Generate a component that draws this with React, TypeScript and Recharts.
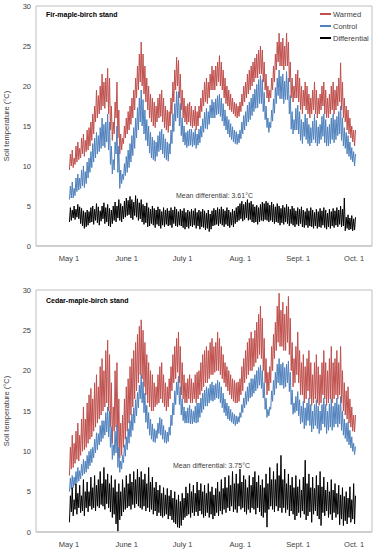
import React from 'react';
import { LineChart, Line, XAxis, YAxis, ReferenceArea, Legend } from 'recharts';

const FONT = '"Liberation Sans", Arial, sans-serif';
const X_MIN = -17.7;
const X_MAX = 162.6;

const dayTicks = [0, 31, 61, 92, 123, 153];
const tickLabels = ['May 1', 'June 1', 'July 1', 'Aug. 1', 'Sept. 1', 'Oct. 1'];
const yTicks = [0, 5, 10, 15, 20, 25, 30];
const seriesNames = ['Warmed', 'Control', 'Differential'];
const seriesColors = ['#C0504D', '#4F81BD', '#000000'];

// ---------- Fir-maple-birch stand (daily highs / lows from May 1) ----------
const firWarmedHigh = [11.5,12.0,11.0,12.5,13.0,12.2,13.5,14.0,13.2,14.5,
14.8,15.5,16.5,17.5,19.5,18.8,20.0,21.5,20.5,21.0,
22.2,21.0,17.5,15.5,18.0,20.5,17.0,14.0,13.5,15.0,
16.0,16.8,17.5,18.5,19.5,21.0,22.5,24.0,25.5,24.0,
22.5,21.0,20.0,19.0,18.5,18.0,17.5,18.5,19.0,19.5,
18.5,17.5,17.0,16.8,18.5,20.5,22.0,23.6,23.2,21.5,
19.5,18.5,17.5,17.8,18.0,17.5,17.0,17.5,16.8,17.5,
18.5,19.5,20.5,21.0,20.5,21.5,22.5,22.0,22.5,23.0,
23.8,23.0,22.0,21.0,20.0,19.5,19.0,18.5,18.0,17.8,
17.5,18.0,19.0,20.0,20.5,21.5,22.0,22.5,23.0,23.5,
24.0,24.5,25.0,24.5,23.0,21.5,20.0,19.5,21.0,22.5,
24.0,25.5,26.6,25.5,26.0,25.0,26.6,25.5,23.0,21.0,
20.0,21.5,22.0,21.0,20.0,19.5,20.5,20.0,19.0,18.5,
19.5,20.5,19.5,18.5,19.0,20.0,20.5,19.5,18.5,19.0,
20.0,20.5,19.5,20.0,21.0,22.9,20.5,18.5,17.5,17.0,
16.0,15.0,14.5,14.5];
const firWarmedLow = [9.5,10.0,9.8,10.2,10.5,10.8,11.0,11.5,11.2,11.8,
12.0,12.5,13.2,14.0,15.5,16.0,16.5,17.0,17.5,17.2,
18.0,16.5,14.5,13.2,14.0,16.0,13.5,11.5,12.0,12.8,
13.5,14.0,14.5,15.2,16.0,17.0,18.5,19.5,20.5,20.0,
19.0,18.0,17.0,16.0,15.5,15.0,14.8,15.5,16.0,16.2,
15.5,14.8,14.5,14.2,15.0,16.5,18.0,19.5,20.0,18.5,
17.0,16.0,15.5,15.2,15.5,15.0,14.8,15.0,14.5,15.0,
16.0,16.8,17.5,18.0,17.8,18.5,19.5,19.5,19.5,20.0,
20.5,20.0,19.5,18.5,17.8,17.5,17.0,16.8,16.5,16.2,
16.0,16.2,16.8,17.5,18.0,18.5,19.0,19.5,20.0,20.5,
21.0,21.0,21.5,21.5,20.5,19.5,18.5,18.0,18.5,19.5,
20.5,22.0,23.0,22.5,22.5,22.0,22.5,22.5,20.5,18.5,
18.0,18.5,18.5,18.0,17.0,16.5,17.5,17.0,16.5,16.0,
16.5,17.0,16.5,16.0,16.5,17.0,17.5,16.5,16.0,16.0,
16.5,17.0,16.5,17.0,17.5,18.0,17.0,16.0,15.5,14.5,
14.0,13.5,13.0,12.5];
const firControlHigh = [7.5,8.0,7.2,8.5,9.0,8.5,9.5,10.0,9.3,10.5,
11.0,11.8,12.8,13.5,14.2,13.8,14.8,16.0,15.2,15.5,
16.5,15.5,12.5,10.8,13.0,15.0,12.5,9.5,9.0,10.3,
11.2,12.0,12.8,13.8,14.8,16.0,17.3,18.5,19.5,18.3,
17.0,15.8,15.0,14.2,13.6,13.2,13.0,13.8,14.3,14.6,
14.0,13.4,13.0,12.8,14.5,16.5,17.8,19.3,19.3,17.8,
16.0,15.0,14.2,14.4,14.6,14.6,14.2,14.6,14.0,14.6,
15.0,15.9,16.7,17.2,16.8,17.6,18.3,18.0,18.4,18.8,
19.0,18.5,17.8,17.0,16.2,15.8,15.3,14.9,14.5,14.3,
14.0,14.5,15.5,16.3,16.8,17.6,18.0,18.5,19.0,19.6,
20.2,20.8,21.3,20.8,19.2,17.5,16.0,15.5,17.0,18.4,
19.8,21.0,22.0,21.2,21.5,20.6,21.8,21.0,18.8,16.8,
15.8,17.2,17.6,16.8,15.8,15.5,16.5,16.0,15.2,14.8,
15.6,16.5,15.7,14.9,15.2,16.2,16.5,15.8,14.9,15.2,
16.0,16.5,15.8,16.2,16.8,17.5,16.0,14.8,14.2,13.8,
13.0,12.3,11.8,11.5];
const firControlLow = [5.8,6.0,6.0,6.3,6.8,7.0,7.2,7.5,7.3,7.8,
8.5,9.2,9.8,10.5,11.0,11.5,11.8,12.2,12.5,12.3,
13.0,12.0,10.2,9.0,9.5,11.5,9.2,7.2,7.8,8.3,
8.8,9.2,9.8,10.5,11.3,12.2,13.5,14.5,15.5,15.0,
14.0,13.2,12.5,11.6,11.0,10.8,10.6,11.2,11.8,12.0,
11.5,11.0,10.8,10.6,11.5,12.8,14.3,15.6,16.0,15.0,
13.8,13.0,12.6,12.3,12.5,12.6,12.4,12.6,12.2,12.6,
12.9,13.6,14.2,14.7,14.6,15.2,16.0,16.0,16.0,16.4,
16.5,16.2,15.6,15.0,14.5,14.0,13.6,13.3,13.0,12.8,
12.7,12.9,13.4,14.0,14.5,15.0,15.5,15.8,16.3,16.8,
17.2,17.3,17.8,17.8,16.8,15.8,14.8,14.2,14.8,15.6,
16.6,17.8,18.8,18.4,18.4,17.8,18.3,18.3,16.5,14.6,
14.0,14.5,14.5,14.0,13.2,12.8,13.7,13.3,12.8,12.5,
12.9,13.3,12.9,12.5,12.8,13.3,13.7,12.9,12.5,12.5,
12.8,13.3,12.9,13.3,13.8,14.0,13.2,12.5,12.2,11.5,
11.2,10.8,10.5,10.0];
const firDiffHigh = [4.8,4.5,5.0,4.6,5.2,4.9,4.7,4.4,4.2,4.5,
4.3,4.8,5.0,4.6,5.3,4.9,4.4,5.0,5.4,4.8,
5.2,4.7,4.5,5.0,5.5,5.0,5.8,5.3,5.0,5.6,
6.0,5.7,6.2,5.8,5.5,6.3,5.9,5.4,5.8,5.2,
5.0,5.4,4.8,4.6,5.0,4.7,4.5,4.9,4.6,4.3,
4.8,4.5,4.7,4.4,4.8,4.5,4.9,4.6,4.3,4.6,
4.4,4.7,4.2,4.5,4.3,4.6,4.4,4.7,4.2,4.5,
4.3,4.6,4.4,4.1,4.5,4.0,4.4,4.7,4.5,4.8,
4.6,4.9,4.6,4.4,4.8,4.5,4.2,4.6,4.4,4.8,
5.0,5.3,5.6,5.2,5.5,5.8,5.4,5.6,5.2,4.9,
5.1,4.8,5.2,5.5,5.3,5.6,5.4,5.1,5.5,5.2,
4.9,5.3,5.0,4.7,5.1,4.8,5.2,4.9,4.6,5.0,
4.7,4.4,4.8,4.6,4.9,4.5,4.3,4.7,4.4,4.8,
4.5,4.2,4.6,4.3,4.7,4.4,4.8,4.5,4.1,4.6,
4.3,4.7,4.4,4.8,4.5,5.0,4.6,6.0,3.6,3.9,
3.5,3.8,3.4,3.6];
const firDiffLow = [3.0,3.2,3.5,3.3,3.6,3.4,2.8,2.5,2.2,2.4,
2.6,2.9,3.0,2.7,3.2,2.9,2.6,3.1,3.4,2.8,
3.0,2.5,2.4,2.8,3.2,3.0,3.5,3.2,3.0,3.4,
3.6,3.8,3.9,3.5,3.3,3.8,3.6,3.2,3.4,3.0,
2.7,2.9,2.4,2.5,2.8,2.6,2.3,2.7,2.5,2.2,
2.6,2.4,2.7,2.5,2.6,2.3,2.8,2.5,2.4,2.6,
2.5,2.3,2.1,2.4,2.2,2.5,2.4,2.6,2.2,2.5,
2.1,2.4,2.3,2.0,2.2,1.8,2.1,2.5,2.6,2.7,
2.5,2.8,2.6,2.4,2.7,2.5,2.3,2.6,2.4,2.8,
3.0,3.2,3.4,3.1,3.3,3.5,3.2,3.3,3.0,2.9,
3.0,2.7,3.0,3.2,3.1,3.3,3.2,3.0,3.2,3.0,
2.8,3.0,2.9,2.6,2.9,2.7,3.0,2.8,2.5,2.8,
2.6,2.4,2.7,2.5,2.8,2.4,2.3,2.6,2.3,2.5,
2.4,2.2,2.5,2.2,2.4,2.3,2.6,2.3,2.1,2.4,
2.2,2.5,2.3,2.6,2.4,2.7,2.4,2.5,1.9,2.2,
2.0,2.1,1.9,2.0];

// ---------- Cedar-maple-birch stand (daily highs / lows from May 1) ----------
const cedarWarmedHigh = [10.5,12.0,11.0,12.5,13.5,12.0,14.0,15.5,14.0,16.0,
17.0,17.8,16.5,18.5,19.5,18.0,20.5,21.5,20.0,22.5,
23.8,22.0,18.5,15.5,20.0,21.0,16.5,13.5,14.5,16.5,
18.0,19.0,20.5,21.5,22.5,23.5,24.5,25.5,26.3,25.0,
23.5,22.0,21.0,20.0,19.5,18.5,18.0,19.5,20.5,21.0,
19.5,18.5,18.0,19.0,20.5,22.0,23.0,24.0,24.8,23.0,
21.0,19.5,18.5,19.0,19.5,19.0,18.5,19.5,19.8,20.0,
21.0,22.0,22.5,23.0,22.5,23.5,24.0,23.0,23.5,24.8,
24.0,23.0,22.0,21.0,20.5,20.0,19.5,19.0,18.8,18.5,
18.6,19.0,20.5,21.5,22.5,23.5,24.0,24.8,24.0,25.0,
26.0,27.0,28.0,26.5,24.0,21.5,19.8,20.5,23.0,24.5,
26.0,28.0,29.6,27.5,28.5,27.0,28.0,29.2,26.5,23.5,
21.5,23.0,24.8,22.5,21.0,22.0,20.5,21.5,22.5,21.0,
19.5,21.0,22.0,20.5,19.5,21.0,22.5,21.0,20.0,21.5,
23.0,21.0,21.5,22.5,21.0,23.0,20.0,18.5,17.5,18.0,
16.5,15.5,14.5,14.5];
const cedarWarmedLow = [7.0,7.8,8.0,8.5,9.0,8.8,9.5,10.0,10.2,10.5,
11.0,11.5,11.8,12.5,13.0,13.5,14.0,14.5,15.0,15.5,
16.0,15.0,13.0,11.0,12.5,13.0,10.0,9.2,9.5,10.5,
11.5,12.5,13.5,14.5,15.5,16.5,17.5,18.5,19.5,19.0,
18.0,17.0,16.0,15.5,15.0,15.0,15.5,15.8,16.0,16.5,
16.0,15.5,15.0,15.5,16.5,17.5,18.5,19.0,19.8,18.5,
17.0,16.5,16.0,16.0,16.5,16.0,16.0,16.5,16.0,16.5,
17.0,17.5,18.0,18.5,18.5,19.0,19.5,19.5,19.8,20.0,
20.0,19.5,19.0,18.5,18.0,17.5,17.0,16.5,16.2,16.0,
16.0,16.2,17.0,17.5,18.5,19.0,19.5,20.0,20.0,20.5,
21.0,21.5,22.0,21.5,20.0,18.5,17.0,17.5,18.5,20.0,
21.5,22.5,23.5,23.0,23.0,22.5,22.5,23.5,22.0,20.0,
18.0,18.5,19.5,18.5,17.0,17.0,16.0,16.5,17.5,16.5,
15.7,16.0,16.5,16.0,15.7,16.0,17.0,16.5,15.7,16.0,
16.5,16.0,16.5,17.0,16.5,17.0,16.0,15.0,14.5,14.0,
13.5,13.0,12.5,12.4];
const cedarControlHigh = [6.7,7.0,6.8,7.5,8.0,7.6,8.4,9.0,8.8,9.5,
10.0,10.3,10.5,11.5,12.3,12.2,13.2,13.8,13.8,14.8,
15.5,15.0,13.0,10.8,12.5,13.2,10.5,8.8,9.5,10.8,
11.8,12.8,13.8,14.6,15.4,16.4,17.3,18.2,19.5,18.6,
17.2,15.7,14.8,14.0,13.4,12.8,12.6,13.5,14.2,14.0,
13.2,12.6,12.4,13.0,14.5,16.0,17.5,18.6,19.3,18.0,
16.5,15.5,15.0,15.4,15.7,15.2,15.0,15.6,16.0,16.0,
16.6,17.2,17.6,18.0,17.8,18.3,18.6,18.2,18.4,18.8,
18.6,18.0,17.2,16.5,16.0,15.6,15.2,14.8,14.6,14.4,
14.3,14.8,15.8,16.6,17.4,18.0,18.5,19.0,19.0,19.5,
20.0,20.4,20.7,20.0,18.5,16.6,15.2,15.5,17.5,18.8,
19.8,20.8,21.5,20.8,21.0,20.4,20.8,21.2,19.8,17.6,
16.0,16.8,17.4,16.4,15.6,16.2,15.4,16.0,16.6,15.8,
15.0,15.8,16.4,15.6,15.0,15.8,16.6,15.8,15.0,15.9,
16.5,15.6,16.0,16.6,15.8,16.8,15.0,14.0,13.5,13.6,
12.6,11.8,11.0,10.6];
const cedarControlLow = [5.0,5.3,5.5,5.8,6.1,6.3,6.6,7.0,7.2,7.4,
7.8,8.2,8.6,9.2,9.8,10.2,10.8,11.2,11.6,12.0,
12.4,11.8,10.5,9.0,9.5,9.8,8.0,7.4,7.8,8.6,
9.4,10.2,11.0,11.8,12.6,13.5,14.4,15.4,16.5,16.0,
14.8,13.6,12.8,12.0,11.5,11.2,11.1,11.6,12.2,12.0,
11.5,11.1,11.0,11.2,12.0,13.2,14.5,15.8,17.0,15.8,
14.5,13.8,13.5,13.5,13.5,13.4,13.4,13.6,13.5,13.6,
14.2,14.8,15.2,15.6,15.6,16.0,16.3,16.2,16.4,16.6,
16.5,16.0,15.4,14.8,14.4,14.0,13.8,13.6,13.4,13.2,
13.4,13.6,14.2,14.8,15.4,15.8,16.2,16.6,16.8,17.2,
17.5,17.8,18.2,17.8,16.6,15.2,14.2,14.4,15.2,16.2,
17.0,17.8,18.5,18.2,18.2,17.8,18.0,18.5,17.4,15.8,
14.6,14.8,15.0,14.4,13.4,13.6,12.8,13.2,13.8,13.2,
12.4,12.8,13.2,12.8,12.2,12.6,13.4,13.0,12.2,12.6,
13.0,12.6,13.0,13.4,13.0,13.4,12.6,12.0,11.6,11.2,
10.8,10.4,10.0,9.6];
const cedarDiffHigh = [4.5,5.5,4.0,6.0,4.8,5.8,4.5,6.5,5.0,6.2,
5.0,6.8,5.5,7.0,5.8,6.5,7.5,6.0,8.0,6.5,
7.2,6.0,7.0,5.5,6.5,5.0,6.0,5.0,6.5,5.5,
7.0,6.0,7.2,6.2,7.5,6.5,7.8,6.8,7.5,6.5,
7.2,6.0,8.0,6.2,6.8,5.5,6.2,5.2,5.8,4.8,
5.5,4.6,5.4,4.5,5.2,4.2,5.0,4.0,4.6,3.8,
4.8,4.2,5.6,4.8,6.0,5.0,5.8,4.8,6.2,5.2,
6.0,5.0,5.8,4.8,6.0,5.0,5.6,4.6,5.4,6.2,
5.0,6.5,5.4,6.8,5.5,7.0,5.8,7.5,6.0,7.2,
6.0,7.8,6.2,7.0,6.5,5.5,7.0,5.8,6.8,7.5,
6.2,7.0,5.8,6.5,5.5,7.2,6.0,8.0,6.5,7.5,
6.5,8.5,7.0,9.5,6.5,7.8,6.0,7.2,5.8,6.8,
5.5,7.0,5.6,6.5,5.2,6.8,8.9,6.0,7.2,5.5,
6.8,5.4,7.0,5.8,7.5,5.6,6.8,5.2,6.2,5.0,
6.5,5.2,6.0,4.8,5.8,4.6,5.5,4.4,5.0,4.2,
5.6,4.0,6.0,4.5];
const cedarDiffLow = [1.2,2.5,2.0,2.8,2.2,3.0,2.4,2.6,2.0,3.0,
2.5,3.2,2.8,3.0,2.6,3.2,3.0,3.4,3.2,2.8,
3.5,3.0,2.5,1.8,2.2,1.0,0.1,1.5,2.0,2.5,
2.8,3.0,3.2,2.8,3.4,3.0,3.5,3.2,3.0,2.8,
3.2,2.6,3.0,2.5,2.8,2.2,2.6,2.0,2.4,2.0,
1.8,2.0,2.2,1.6,2.0,1.5,1.2,1.0,0.6,0.5,
0.8,1.5,1.8,2.0,2.2,1.8,2.4,2.0,2.5,2.0,
2.6,2.2,1.8,2.0,2.4,1.8,2.2,1.6,2.0,2.4,
2.0,2.6,2.2,2.8,2.4,3.0,2.6,3.2,2.5,2.8,
2.4,3.2,2.8,3.0,2.5,2.2,2.8,2.4,3.0,2.8,
2.2,3.0,2.5,2.0,1.8,2.4,0.6,2.8,3.2,2.8,
2.5,3.2,2.6,3.0,2.4,3.0,2.4,2.8,2.0,2.6,
2.2,1.5,2.0,2.4,1.8,2.6,2.2,1.5,2.0,2.5,
1.2,2.2,2.6,2.0,1.6,0.8,2.4,2.0,2.6,1.8,
2.2,1.5,2.4,1.8,2.2,0.9,1.6,0.8,1.4,1.0,
1.8,1.2,1.6,1.0];

type Row = { t: number; warmed: number; control: number; diff: number };

function buildRows(wH: number[], wL: number[], cH: number[], cL: number[], dH: number[], dL: number[]): Row[] {
  const rows: Row[] = [];
  for (let i = 0; i < wH.length; i++) {
    rows.push({ t: i + 0.25, warmed: wL[i], control: cL[i], diff: dL[i] });
    rows.push({ t: i + 0.75, warmed: wH[i], control: cH[i], diff: dH[i] });
  }
  return rows;
}

const firRows = buildRows(firWarmedHigh, firWarmedLow, firControlHigh, firControlLow, firDiffHigh, firDiffLow);
const cedarRows = buildRows(cedarWarmedHigh, cedarWarmedLow, cedarControlHigh, cedarControlLow, cedarDiffHigh, cedarDiffLow);

const renderYLabel = (props: any) => {
  const vb = props.viewBox || { x: 0, y: 0, width: 0, height: 0 };
  const cx = 6;
  const cy = vb.y + vb.height / 2;
  return (
    <text x={cx} y={cy} transform={`rotate(-90 ${cx} ${cy})`} textAnchor="middle" dominantBaseline="central"
      fontSize={7.5} fill="#404040" fontFamily={FONT}>
      Soil temperature (°C)
    </text>
  );
};

const renderLegend = (props: any) => {
  const payload = [...(props.payload || [])].sort(
    (a: any, b: any) => seriesNames.indexOf(a.value) - seriesNames.indexOf(b.value)
  );
  return (
    <div style={{ fontFamily: FONT, fontSize: 7.5, color: '#404040' }}>
      {payload.map((p: any) => (
        <div key={p.value} style={{ display: 'flex', alignItems: 'center', height: 12, whiteSpace: 'nowrap' }}>
          <span style={{ display: 'inline-block', width: 11, height: 1.5, background: p.color, marginRight: 2 }} />
          <span>{p.value}</span>
        </div>
      ))}
    </div>
  );
};

type PanelProps = {
  rows: Row[];
  title: string;
  meanText: string;
  meanLeft: number;
  meanTop: number;
  titleTop: number;
  showLegend: boolean;
  marginTop: number;
  xAxisHeight: number;
};

function Panel({ rows, title, meanText, meanLeft, meanTop, titleTop, showLegend, marginTop, xAxisHeight }: PanelProps) {
  const keys = ['warmed', 'control', 'diff'];
  return (
    <div style={{ position: 'relative', width: 378, height: 270 }}>
      <LineChart width={378} height={270} data={rows} margin={{ top: marginTop, right: 6, bottom: 0, left: 0 }}>
        <XAxis
          type="number"
          dataKey="t"
          domain={[X_MIN, X_MAX]}
          allowDataOverflow
          ticks={dayTicks}
          interval={0}
          tickFormatter={(v: number) => tickLabels[dayTicks.indexOf(v)]}
          tickLine={false}
          tickMargin={4}
          axisLine={{ stroke: '#bfbfbf' }}
          height={xAxisHeight}
          tick={{ fontSize: 7.5, fill: '#404040', fontFamily: FONT }}
        />
        <YAxis
          type="number"
          domain={[0, 30]}
          ticks={yTicks}
          interval={0}
          width={36}
          tickLine={false}
          tickSize={3}
          tickMargin={2}
          axisLine={false}
          tick={{ fontSize: 7.5, fill: '#404040', fontFamily: FONT }}
          label={renderYLabel}
        />
        <ReferenceArea x1={X_MIN} x2={X_MAX} y1={0} y2={30} fill="none" stroke="#bfbfbf" strokeWidth={1} ifOverflow="visible" />
        {keys.map((k, i) => (
          <Line
            key={k}
            type="linear"
            dataKey={k}
            name={seriesNames[i]}
            stroke={seriesColors[i]}
            strokeWidth={1}
            dot={false}
            activeDot={false}
            isAnimationActive={false}
            legendType="plainline"
          />
        ))}
        {showLegend && (
          <Legend
            layout="vertical"
            align="center"
            verticalAlign="middle"
            itemSorter={null as any}
            wrapperStyle={{ left: 320, top: 8, width: 58, height: 36 }}
            content={renderLegend}
          />
        )}
      </LineChart>
      <div style={{ position: 'absolute', left: 46, top: titleTop, fontFamily: FONT, fontSize: 7, fontWeight: 'bold', color: '#000', whiteSpace: 'nowrap', lineHeight: '8px' }}>
        {title}
      </div>
      <div style={{ position: 'absolute', left: meanLeft, top: meanTop, fontFamily: FONT, fontSize: 7, color: '#404040', whiteSpace: 'nowrap', lineHeight: '8px' }}>
        {meanText}
      </div>
    </div>
  );
}

export default function App() {
  return (
    <div style={{ position: 'absolute', left: 0, top: 0, width: 378, height: 550, background: '#fff' }}>
      <div style={{ position: 'absolute', left: 0, top: 0 }}>
        <Panel rows={firRows} title="Fir-maple-birch stand" meanText="Mean differential:  3.61°C"
          meanLeft={176} meanTop={192} titleTop={11} showLegend marginTop={6} xAxisHeight={24} />
      </div>
      <div style={{ position: 'absolute', left: 0, top: 280 }}>
        <Panel rows={cedarRows} title="Cedar-maple-birch stand" meanText="Mean differential:  3.75°C"
          meanLeft={173} meanTop={182} titleTop={17} showLegend={false} marginTop={10} xAxisHeight={18} />
      </div>
    </div>
  );
}
